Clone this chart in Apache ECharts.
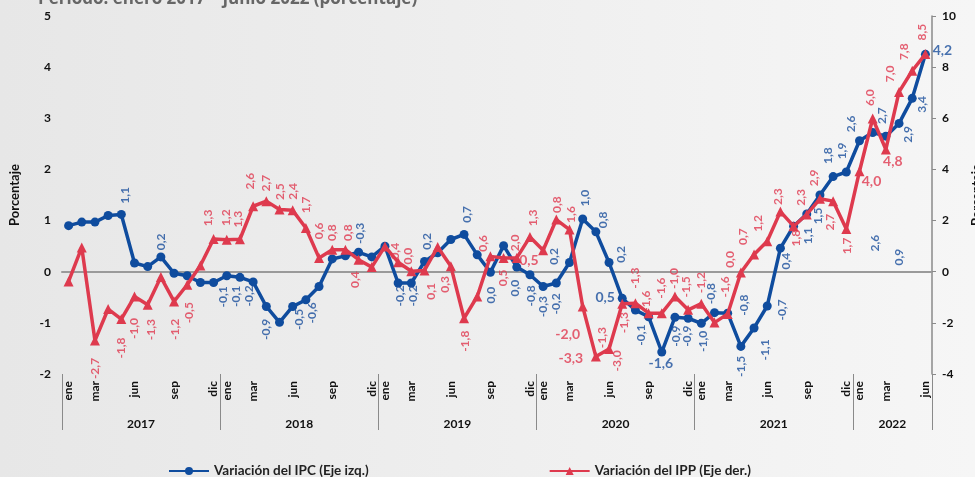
<!DOCTYPE html>
<html>
<head>
<meta charset="utf-8">
<script src="https://cdn.jsdelivr.net/npm/echarts@6/dist/echarts.min.js"></script>
<style>
html,body{margin:0;padding:0;}
#chart{width:975px;height:477px;}
</style>
</head>
<body>
<div id="chart"></div>
<script>
// ---- Data ----
const categories = [
 'ene 2017','feb 2017','mar 2017','abr 2017','may 2017','jun 2017','jul 2017','ago 2017','sep 2017','oct 2017','nov 2017','dic 2017',
 'ene 2018','feb 2018','mar 2018','abr 2018','may 2018','jun 2018','jul 2018','ago 2018','sep 2018','oct 2018','nov 2018','dic 2018',
 'ene 2019','feb 2019','mar 2019','abr 2019','may 2019','jun 2019','jul 2019','ago 2019','sep 2019','oct 2019','nov 2019','dic 2019',
 'ene 2020','feb 2020','mar 2020','abr 2020','may 2020','jun 2020','jul 2020','ago 2020','sep 2020','oct 2020','nov 2020','dic 2020',
 'ene 2021','feb 2021','mar 2021','abr 2021','may 2021','jun 2021','jul 2021','ago 2021','sep 2021','oct 2021','nov 2021','dic 2021',
 'ene 2022','feb 2022','mar 2022','abr 2022','may 2022','jun 2022'
];
const monthTicks = ['ene','mar','jun','sep','dic'];
const yearLabels = ['2017','2018','2019','2020','2021','2022'];

const ipc = [
 0.90,0.97,0.97,1.10,1.12,0.17,0.10,0.29,-0.03,-0.08,-0.21,-0.21,
 -0.08,-0.11,-0.20,-0.68,-0.99,-0.68,-0.55,-0.29,0.25,0.31,0.38,0.29,
 0.50,-0.22,-0.22,0.20,0.37,0.63,0.73,0.33,-0.01,0.51,0.09,-0.06,
 -0.29,-0.22,0.18,1.03,0.78,0.18,-0.52,-0.75,-0.88,-1.57,-0.89,-0.91,
 -1.01,-0.80,-0.81,-1.46,-1.10,-0.67,0.46,0.89,1.13,1.50,1.86,1.95,
 2.56,2.72,2.65,2.90,3.39,4.25
];
const ipp = [
 -0.38,0.95,-2.69,-1.46,-1.85,-0.97,-1.29,-0.21,-1.16,-0.51,0.24,1.28,
 1.25,1.27,2.56,2.76,2.43,2.40,1.71,0.54,0.86,0.86,0.47,0.18,
 0.99,0.37,0.02,0.05,0.97,0.21,-1.82,-0.97,0.60,0.54,0.54,1.36,
 0.84,2.04,1.65,-1.36,-3.32,-3.02,-1.25,-1.23,-1.62,-1.62,-0.97,-1.49,
 -1.25,-1.99,-1.65,-0.03,0.67,1.19,2.35,1.78,2.24,2.85,2.76,1.67,
 3.93,5.99,4.78,7.03,7.86,8.51
];

// Data label texts as printed in the source chart: [category index, text]
const ipcLabels = [
 [4,'1,1'],[7,'0,2'],[12,'-0,1'],[13,'-0,1'],[14,'-0,2'],[15,'-0,9'],[17,'-0,5'],[18,'-0,6'],
 [22,'-0,3'],[25,'-0,2'],[26,'-0,2'],[27,'0,2'],[30,'0,7'],[32,'0,0'],[34,'0,0'],[35,'-0,8'],
 [36,'-0,3'],[37,'-0,2'],[38,'0,2'],[39,'1,0'],[40,'0,8'],[41,'0,2'],[42,'0,5'],[43,'-0,1'],
 [45,'-1,6'],[46,'-0,9'],[47,'-0,9'],[48,'-1,0'],[49,'-0,8'],[50,'-0,8'],[51,'-1,5'],[52,'-1,1'],
 [53,'-0,7'],[54,'0,4'],[55,'0,9'],[56,'1,1'],[57,'1,5'],[58,'1,8'],[59,'1,9'],[60,'2,6'],
 [61,'2,7'],[62,'2,6'],[63,'2,9'],[64,'3,4'],[65,'4,2']
];
const ippLabels = [
 [2,'-2,7'],[4,'-1,8'],[5,'-1,0'],[6,'-1,3'],[8,'-1,2'],[9,'-0,5'],[11,'1,3'],[12,'1,2'],[13,'1,3'],
 [14,'2,6'],[15,'2,7'],[16,'2,5'],[17,'2,4'],[18,'1,7'],[19,'0,6'],[20,'0,8'],[21,'0,8'],[22,'0,4'],
 [25,'0,4'],[26,'0,0'],[27,'0,1'],[29,'0,3'],[30,'-1,8'],[32,'0,6'],[33,'0,5'],[34,'2,0'],[35,'0,5'],
 [35,'1,3'],[37,'0,8'],[38,'1,6'],[39,'-2,0'],[40,'-3,3'],[40,'-1,3'],[41,'-3,0'],[42,'-1,3'],[43,'-1,3'],
 [44,'-1,6'],[45,'-1,6'],[46,'-1,0'],[47,'-1,5'],[48,'-1,2'],[50,'-1,6'],[51,'0,0'],[52,'0,7'],[53,'1,2'],
 [54,'2,3'],[55,'1,8'],[56,'2,3'],[57,'2,9'],[58,'2,7'],[59,'1,7'],[60,'4,0'],[61,'6,0'],[62,'4,8'],
 [63,'7,0'],[64,'7,8'],[65,'8,5']
];

// ---- Label layout (pixel offsets from the mark, and rotation) ----
const ipcLabelPos = [
 [4,-19,90],[0,-15,90],[-4,21,90],[-4,19,90],[-4,14,90],[0,23,90],[6,13,90],[6,13,90],
 [2,-19,90],[2,13,90],[2,13,90],[3,-20,90],[3,-20,90],[1,23,90],[-2,21,90],[1,21,90],
 [0,20,90],[0,21,90],[-15,-6,90],[2,-21,90],[7,-12,90],[12,-8,90],[-17,-1,0],[6,25,90],
 [-1,11,0],[1,19,90],[-1,18,90],[2,18,90],[-3,-19,90],[16,-8,90],[0,20,90],[11,22,90],
 [15,4,90],[6,13,90],[106,31,90],[1,22,90],[-2,21,90],[-5,-21,90],[-4,-21,90],[-8,-17,90],
 [9,-17,90],[-11,107,90],[9,11,90],[10,6,90],[17,-4,0]
];
const ippLabelPos = [
 [0,28,90],[0,29,90],[0,32,90],[3,25,90],[1,28,90],[2,28,90],[-5,-21,90],[-1,-22,90],[-2,-20,90],
 [-3,-25,90],[0,-18,90],[1,-18,90],[0,-19,90],[0,-23,90],[0,-27,90],[0,-17,90],[3,-17,90],[-3,20,90],
 [-3,-11,90],[-3,-15,90],[7,21,90],[-6,18,90],[1,23,90],[-7,-13,90],[0,20,90],[-2,-15,90],[-1,24,0],
 [3,-19,90],[1,-15,90],[2,-15,90],[-15,28,0],[-25,2,0],[6,-19,90],[8,12,90],[2,19,90],[0,-25,90],
 [-2,-12,90],[-1,-25,90],[-1,-18,90],[-2,-23,90],[0,-21,90],[-3,-27,90],[-11,-13,90],[-11,-18,90],[-9,-18,90],
 [-2,-15,90],[3,12,90],[-6,-17,90],[-6,-21,90],[-3,21,90],[1,17,90],[12,10,0],[-3,-21,90],[7,12,0],
 [-9,-18,90],[-8,-19,90],[-3,-22,90]
];

const BLUE = '#0F4C9E';
const RED = '#DE3A4E';
const FONT = 'Lato';

function labelSeries(name, labels, pos, values, yIdx, color) {
  return {
    name: name,
    type: 'scatter',
    yAxisIndex: yIdx,
    symbolSize: 2,
    silent: true,
    z: 5,
    itemStyle: {color: 'rgba(0,0,0,0)'},
    data: labels.map(function (l, k) {
      return {
        value: [l[0], values[l[0]]],
        label: {fontSize: pos[k][2] ? 12 : 14}
      };
    }),
    label: {
      show: true,
      position: 'inside',
      color: color,
      fontFamily: FONT,
      fontWeight: 'bold',
      formatter: function (p) { return labels[p.dataIndex][1]; }
    },
    labelLayout: function (p) {
      const o = pos[p.dataIndex];
      return {
        x: p.rect.x + p.rect.width / 2 + o[0],
        y: p.rect.y + p.rect.height / 2 + o[1],
        rotate: o[2],
        align: 'center',
        verticalAlign: 'middle'
      };
    }
  };
}

const chart = echarts.init(document.getElementById('chart'));
const yearCenterIdx = [5, 17, 29, 41, 53, 62];

chart.setOption({
  animation: false,
  backgroundColor: {
    type: 'linear', x: 0, y: 0, x2: 1, y2: 0,
    colorStops: [{offset: 0, color: '#e7e7e7'}, {offset: 1, color: '#f6f6f6'}]
  },
  title: {
    text: 'Periodo: enero 2017 – junio 2022 (porcentaje)',
    left: 33, top: -14,
    textStyle: {fontFamily: 'Open Sans', fontSize: 17, fontWeight: 'bold', color: '#666'}
  },
  legend: {
    data: ['Variación del IPC (Eje izq.)', 'Variación del IPP (Eje der.)'],
    left: 163, top: 459,
    itemWidth: 40, itemHeight: 10, itemGap: 180,
    textStyle: {fontFamily: FONT, fontSize: 13.5, fontWeight: 'bold', color: '#222'}
  },
  grid: {left: 62, right: 43, top: 16, bottom: 103, containLabel: false, outerBoundsMode: 'none'},
  xAxis: [
    {
      type: 'category', data: categories, position: 'bottom', boundaryGap: true,
      axisLine: {show: false, onZero: false}, axisTick: {show: false},
      axisLabel: {
        rotate: 90, margin: 7, fontFamily: FONT, fontSize: 12, fontWeight: 'bold', color: '#111',
        interval: function (i) { return [0, 2, 5, 8, 11].indexOf(i % 12) >= 0; },
        formatter: function (v) { const m = v.split(' ')[0]; return monthTicks.indexOf(m) >= 0 ? m : ''; }
      }
    },
    {
      type: 'category', data: categories, position: 'bottom', boundaryGap: true,
      axisLine: {show: false, onZero: false},
      axisTick: {show: true, length: 56, interval: function (i) { return i % 12 === 0; }, lineStyle: {color: '#8a8a8a', width: 1}},
      axisLabel: {
        margin: 44, padding: [0, 0, 0, 13], fontFamily: FONT, fontSize: 12, fontWeight: 'bold', color: '#111',
        interval: function (i) { return yearCenterIdx.indexOf(i) >= 0; },
        formatter: function (v) { return yearLabels[yearLabels.indexOf(v.split(' ')[1])]; }
      }
    },
    {
      type: 'category', data: categories, position: 'bottom', boundaryGap: true,
      axisLine: {show: true, onZero: true, onZeroAxisIndex: 0, lineStyle: {color: '#9a9a9a', width: 2}},
      axisTick: {show: false}, axisLabel: {show: false}
    }
  ],
  yAxis: [
    {
      type: 'value', min: -2, max: 5, interval: 1, position: 'left',
      name: 'Porcentaje', nameLocation: 'middle', nameRotate: 90, nameGap: 41,
      nameTextStyle: {fontFamily: FONT, fontSize: 13, fontWeight: 'bold', color: '#111'},
      axisLine: {show: false}, axisTick: {show: false}, splitLine: {show: false},
      axisLabel: {margin: 11, fontFamily: FONT, fontSize: 12, fontWeight: 'bold', color: '#111'}
    },
    {
      type: 'value', min: -4, max: 10, interval: 2, position: 'right',
      name: 'Porcentaje', nameLocation: 'middle', nameRotate: 90, nameGap: 38,
      nameTextStyle: {fontFamily: FONT, fontSize: 13, fontWeight: 'bold', color: '#111'},
      axisLine: {show: true, onZero: false, lineStyle: {color: '#8a8a8a', width: 1.5}},
      axisTick: {show: true, length: 4, lineStyle: {color: '#8a8a8a'}},
      splitLine: {show: false},
      axisLabel: {margin: 10, fontFamily: FONT, fontSize: 12, fontWeight: 'bold', color: '#111'}
    }
  ],
  series: [
    {
      name: 'Variación del IPC (Eje izq.)', type: 'line', yAxisIndex: 0, data: ipc,
      symbol: 'circle', symbolSize: 9, showAllSymbol: true, z: 3,
      lineStyle: {color: BLUE, width: 3.5}, itemStyle: {color: BLUE}
    },
    {
      name: 'Variación del IPP (Eje der.)', type: 'line', yAxisIndex: 1, data: ipp,
      symbol: 'triangle', symbolSize: 10, showAllSymbol: true, z: 4,
      lineStyle: {color: RED, width: 3.5}, itemStyle: {color: RED}
    },
    labelSeries('ipcLab', ipcLabels, ipcLabelPos, ipc, 0, '#1A4F9C'),
    labelSeries('ippLab', ippLabels, ippLabelPos, ipp, 1, '#E03A50')
  ]
});
</script>
</body>
</html>
